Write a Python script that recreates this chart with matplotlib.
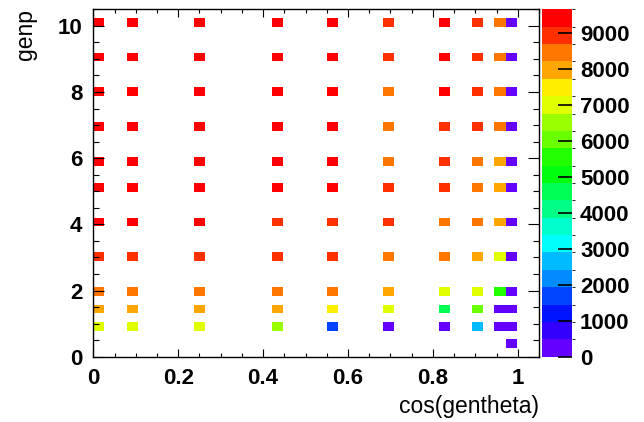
import numpy as np
import matplotlib
matplotlib.use("Agg")
import matplotlib.pyplot as plt
from matplotlib.colors import ListedColormap, BoundaryNorm

plt.rcParams['font.family'] = ['Liberation Sans', 'DejaVu Sans']

# bin centres
costheta = [0.013, 0.092, 0.249, 0.433, 0.564, 0.696, 0.827, 0.906, 0.958, 0.984]
genp = [10, 9, 8, 7, 6, 5, 4, 3, 2, 1.5, 1, 0.5]

# counts per (genp row, costheta column), 0 = empty bin
counts = [
    [9500, 9450, 9480, 9420, 9380, 8900, 9300, 8850, 8400, 200],
    [9550, 9500, 9460, 9400, 9350, 8950, 9250, 8800, 8350, 210],
    [9600, 9520, 9450, 9410, 9300, 8500, 9200, 8750, 8300, 190],
    [9650, 9500, 9430, 9380, 9250, 8450, 9000, 8900, 8250, 180],
    [9580, 9480, 9420, 9350, 9200, 8400, 8900, 8300, 7900, 170],
    [9520, 9450, 9380, 9300, 9180, 8950, 8800, 8350, 7850, 160],
    [9450, 9380, 9300, 9100, 9000, 8900, 8450, 8300, 7800, 150],
    [9100, 9050, 9000, 8950, 8850, 8400, 8300, 7900, 7100, 140],
    [8600, 8550, 8500, 8450, 8300, 7900, 7050, 6950, 5500, 130],
    [8000, 7950, 7900, 7850, 7500, 7000, 4600, 6000, 250, 120],
    [7100, 7000, 6950, 6500, 1700, 300, 250, 2700, 350, 110],
    [0, 0, 0, 0, 0, 0, 0, 0, 0, 100],
]

# root "pretty" palette, 20 contour levels
palette = ['#6300ff', '#3300ff', '#0014ff', '#0044ff', '#008bff',
           '#00bbff', '#00fffb', '#00ffcc', '#00ff85', '#00ff55',
           '#00ff0e', '#22ff00', '#69ff00', '#99ff00', '#e0ff00',
           '#ffee00', '#ffa700', '#ff7700', '#ff3000', '#ff0000']

xedges = np.linspace(0, 1.05, 41)
yedges = np.linspace(0, 10.5, 41)

xs, ys, ws = [], [], []
for i, y in enumerate(genp):
    for j, x in enumerate(costheta):
        if counts[i][j] > 0:
            xs.append(x)
            ys.append(y)
            ws.append(counts[i][j])

H, _, _ = np.histogram2d(xs, ys, bins=[xedges, yedges], weights=ws)
H = np.ma.masked_equal(H.T, 0)

zmax = max(ws)
levels = np.linspace(0, zmax, 21)
cmap = ListedColormap(palette)
norm = BoundaryNorm(levels, cmap.N)

fig = plt.figure(figsize=(6.44, 4.22), dpi=100)
ax = fig.add_axes([93.3 / 644, 1 - 356.7 / 422, 445.7 / 644, 347.4 / 422])
mesh = ax.pcolormesh(xedges, yedges, H, cmap=cmap, norm=norm)

ax.set_xlim(0, 1.05)
ax.set_ylim(0, 10.5)
ax.set_xticks(np.arange(0, 1.01, 0.2))
ax.set_xticklabels(['0', '0.2', '0.4', '0.6', '0.8', '1'])
ax.set_xticks(np.arange(0, 1.051, 0.05), minor=True)
ax.set_yticks(np.arange(0, 10.1, 2))
ax.set_yticks(np.arange(0, 10.51, 0.5), minor=True)

ax.tick_params(which='both', direction='in', top=True, right=True, width=0.8)
ax.tick_params(axis='x', which='major', length=6, pad=8)
ax.tick_params(axis='x', which='minor', length=3)
ax.tick_params(axis='y', which='major', length=8, pad=8)
ax.tick_params(axis='y', which='minor', length=4.5)
for lab in ax.get_xticklabels() + ax.get_yticklabels():
    lab.set_fontweight('bold')
    lab.set_fontsize(16)
for s in ax.spines.values():
    s.set_linewidth(1.0)

ax.set_xlabel('cos(gentheta)', fontsize=16.5, loc='right')
ax.xaxis.set_label_coords(1.0, -0.11)
ax.set_ylabel('genp', fontsize=16.5, loc='top')
ax.yaxis.set_label_coords(-0.126, 1.0)

cax = fig.add_axes([541.7 / 644, 1 - 356.7 / 422, 30 / 644, 347.4 / 422])
cb = fig.colorbar(mesh, cax=cax, ticks=np.arange(0, 9001, 1000))
cb.outline.set_visible(False)
cax.tick_params(direction='in', length=10, width=1.2, pad=6)
for lab in cax.get_yticklabels():
    lab.set_fontweight('bold')
    lab.set_fontsize(16)

fig.savefig('out.png', dpi=100)
